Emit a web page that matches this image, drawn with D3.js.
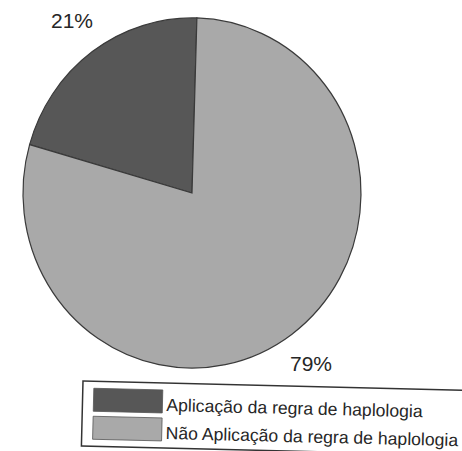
<!DOCTYPE html>
<html>
<head>
<meta charset="utf-8">
<script src="https://cdn.jsdelivr.net/npm/d3@7"></script>
<style>
  body { margin: 0; background: #fff; }
  text { font-family: "Liberation Sans", Arial, sans-serif; fill: #262626; }
</style>
</head>
<body>
<script>
const m = {
    width: 462,
    height: 451
}

// data
const categories = ['Aplicação da regra de haplologia', 'Não Aplicação da regra de haplologia']
const values = [21, 79]
const pctLabels = ['21%', '79%']
const colors = ['#575757', '#a9a9a9']

const svg = d3.select('body').append('svg')
    .attr('width', m.width)
    .attr('height', m.height)

const cx = 192, cy = 193, r = 169
const tilt = 0.029 // scan is slightly rotated

const pie = d3.pie()
    .sort(null)
    .startAngle(tilt - 2 * Math.PI * values[0] / 100)
    .endAngle(tilt - 2 * Math.PI * values[0] / 100 + 2 * Math.PI)

const arc = d3.arc().innerRadius(0).outerRadius(r)

const g = svg.append('g')
    .attr('transform', 'translate(' + cx + ',' + cy + ') scale(1,1.036)')

g.selectAll('path')
    .data(pie(values))
    .enter()
    .append('path')
        .attr('d', arc)
        .attr('fill', (d, i) => colors[i])
        .attr('stroke', '#3a3a3a')
        .attr('stroke-width', 1.2)

// percentage labels
const labelPos = [[72, 28], [311, 371]]
svg.selectAll('.pct')
    .data(pctLabels)
    .enter()
    .append('text')
        .attr('class', 'pct')
        .attr('x', (d, i) => labelPos[i][0])
        .attr('y', (d, i) => labelPos[i][1])
        .attr('text-anchor', 'middle')
        .attr('font-size', 21)
        .text(d => d)

// legend
const lg = svg.append('g').attr('transform', 'translate(83,381) rotate(1.4)')
lg.append('rect')
    .attr('x', 0).attr('y', 0)
    .attr('width', 400).attr('height', 65)
    .attr('fill', '#fff')
    .attr('stroke', '#333')
    .attr('stroke-width', 1.5)

const items = lg.selectAll('.item')
    .data(categories)
    .enter()
    .append('g')
        .attr('transform', (d, i) => 'translate(11,' + (7 + i * 28) + ')')

items.append('rect')
    .attr('width', 69).attr('height', 23)
    .attr('fill', (d, i) => colors[i])
    .attr('stroke', '#555')
    .attr('stroke-width', 0.8)

items.append('text')
    .attr('x', 73)
    .attr('y', 21)
    .attr('font-size', 17.6)
    .text(d => d)
</script>
</body>
</html>
